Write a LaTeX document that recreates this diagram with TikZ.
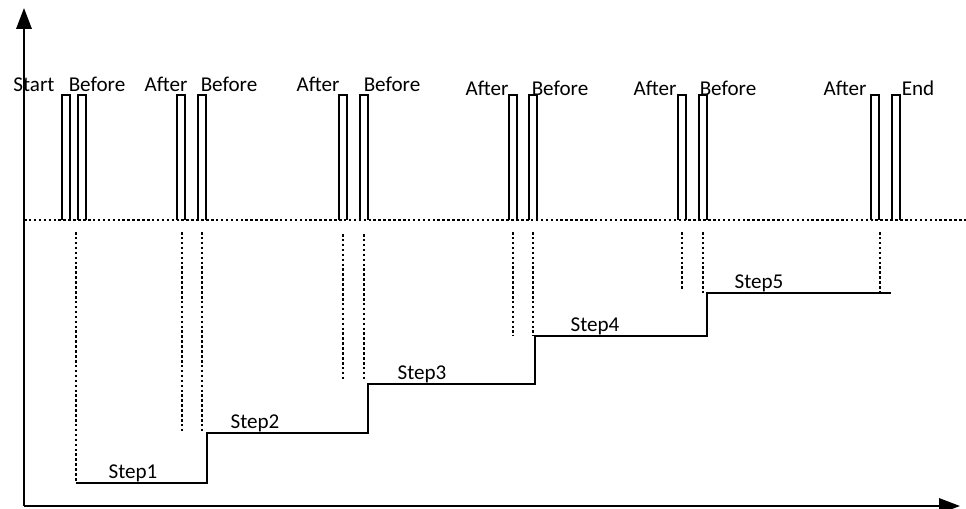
\documentclass[tikz,border=0pt]{standalone}
\usepackage{fontspec}
\setmainfont{Carlito}
\usepackage{tikz}
\usetikzlibrary{arrows.meta}
\tikzset{axisln/.style={line width=1.6pt,-{Triangle[length=5.2mm,width=3.8mm]}}}
\tikzset{pulse/.style={line width=1.3pt}}
\tikzset{guide/.style={line width=1.4pt,dash pattern=on 1.8pt off 1.7pt}}
\tikzset{stepln/.style={line width=1.6pt}}
\tikzset{tag/.style={font=\fontsize{15}{18}\selectfont,anchor=base,inner sep=0pt}}

\begin{document}
\begin{tikzpicture}[x=0.025cm,y=-0.025cm]
\useasboundingbox (0,0) rectangle (966,508);
\coordinate (O) at (24,506); \coordinate (Ytop) at (24,8); \coordinate (Xend) at (960,506);
\coordinate (B0) at (24,220); \coordinate (B1) at (966,220);
% axes and base level
\draw[axisln] (O)--(Ytop);
\draw[axisln] (O)--(Xend);
\draw[guide] (B0)--(B1);
% pulses
\foreach \px in {62,78,177,198,339,360,509,529,678,699,871,892}
  \draw[pulse] (\px,220)--(\px,95)--(\px+8,95)--(\px+8,220);
% pulse labels
\node[tag] (st) at (34,91) {Start}; \node[tag] (b1) at (97,91) {Before};
\node[tag] (a1) at (166,91) {After}; \node[tag] (b2) at (229,91) {Before};
\node[tag] (a2) at (318,91) {After}; \node[tag] (b3) at (392,91) {Before};
\node[tag] (a3) at (487,95) {After}; \node[tag] (b4) at (560,95) {Before};
\node[tag] (a4) at (655,95) {After}; \node[tag] (b5) at (728,95) {Before};
\node[tag] (a5) at (845,95) {After}; \node[tag] (en) at (918,95) {End};
% staircase
\coordinate (S0) at (76,483); \coordinate (S1) at (207,483); \coordinate (S2) at (207,433);
\coordinate (S3) at (368,433); \coordinate (S4) at (368,384); \coordinate (S5) at (535,384);
\coordinate (S6) at (535,336); \coordinate (S7) at (707,336); \coordinate (S8) at (707,293);
\coordinate (S9) at (891,293);
\draw[stepln] (S0)--(S1)--(S2)--(S3)--(S4)--(S5)--(S6)--(S7)--(S8)--(S9);
% guide lines down to the steps
\draw[guide] (76,232)--(S0);
\draw[guide] (182,232)--(182,433); \draw[guide] (202,232)--(202,433);
\draw[guide] (343,234)--(343,380); \draw[guide] (364,234)--(364,380);
\draw[guide] (513,232)--(513,336); \draw[guide] (533,232)--(533,336);
\draw[guide] (682,232)--(682,290); \draw[guide] (703,232)--(703,293);
\draw[guide] (880,232)--(880,293);
% step labels
\node[tag] (s1) at (133,478) {Step1}; \node[tag] (s2) at (255,428) {Step2};
\node[tag] (s3) at (422,379) {Step3}; \node[tag] (s4) at (595,331) {Step4};
\node[tag] (s5) at (759,288) {Step5};
\end{tikzpicture}
\end{document}
